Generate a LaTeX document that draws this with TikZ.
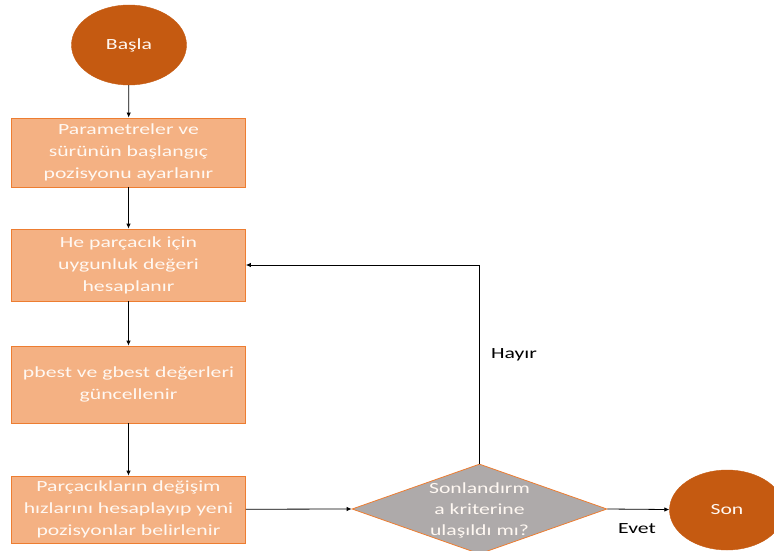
\documentclass[tikz,border=0pt]{standalone}
\usepackage{fontspec}
\setmainfont{Carlito}[FakeStretch=1.4]
\usetikzlibrary{shapes.geometric,arrows.meta}
\definecolor{koyu}{HTML}{C55A11}
\definecolor{acik}{HTML}{F4B183}
\definecolor{kenar}{HTML}{ED7D31}
\definecolor{gri}{HTML}{AEAAAA}
\definecolor{yazi}{HTML}{FFF8F2}
\begin{document}
\begin{tikzpicture}[x=1pt,y=-1pt,
        uc/.style={draw=koyu, fill=koyu, ellipse, minimum width=115pt, minimum height=80pt, inner sep=0, text=yazi, font=\fontsize{15.5}{22}\selectfont},
        kutu/.style={draw=kenar, fill=acik, line width=0.8pt, minimum width=234pt, inner sep=0, align=center, text=yazi, font=\fontsize{15.5}{22}\selectfont},
        karar/.style={draw=kenar, fill=gri, diamond, minimum width=255pt, minimum height=90pt, inner sep=0, line width=0.8pt},
        ok/.style={draw=black, line width=0.8pt, -{Latex[length=5pt,width=4.5pt]}},
        etiket/.style={text=black, font=\fontsize{15.5}{22}\selectfont}]
        \useasboundingbox (0,0) rectangle (774,551);
        \node[uc] (basla) at (129, 45) {Başla};
        \node[kutu, minimum height=69pt] (ayar) at (128.5, 152.5) {Parametreler ve\\sürünün başlangıç\\pozisyonu ayarlanır};
        \node[kutu, minimum height=72pt] (uygun) at (128.5, 265) {He parçacık için\\uygunluk değeri\\hesaplanır};
        \node[kutu, minimum height=77pt] (guncel) at (128.5, 384.5) {pbest ve gbest değerleri\\güncellenir};
        \node[kutu, minimum height=67pt] (hiz) at (128.5, 509.5) {Parçacıkların değişim\\hızlarını hesaplayıp yeni\\pozisyonlar belirlenir};
        \node[karar] (karar) at (479.5, 509) {};
        \node[text=yazi, align=center, font=\fontsize{15.5}{21}\selectfont] (kararyazi) at (479.5, 510) {Sonlandırm\\a kriterine\\ulaşıldı mı?};
        \node[uc] (son) at (727, 510) {Son};
        \draw[ok] (basla) -- (ayar);
        \draw[ok] (ayar) -- (uygun);
        \draw[ok] (uygun) -- (guncel);
        \draw[ok] (guncel) -- (hiz);
        \draw[ok] (hiz) -- (karar.west);
        \draw[ok] (karar.east) -- (son);
        \draw[ok] (karar.north) |- (uygun.east);
        \node[etiket] (hayir) at (514, 355) {Hayır};
        \node[etiket] (evet) at (637, 529) {Evet};
    \end{tikzpicture}
\end{document}
